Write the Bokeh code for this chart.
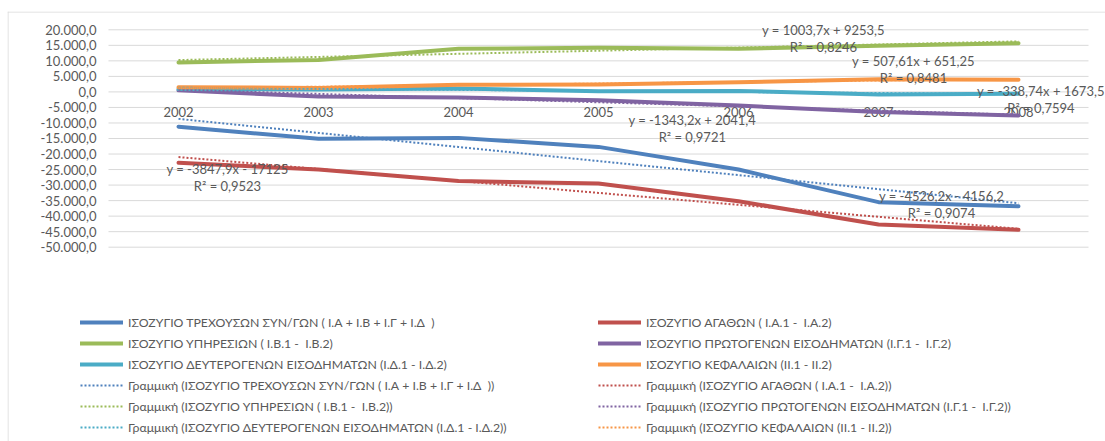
from bokeh.plotting import figure
from bokeh.models import Range1d, FixedTicker, Legend, LegendItem, Label, Span
from bokeh.core.properties import value
from bokeh.embed import file_html
from bokeh.resources import INLINE

# ---------------- data ----------------
years = ["2002", "2003", "2004", "2005", "2006", "2007", "2008"]
x_idx = [1, 2, 3, 4, 5, 6, 7]

current_acc = [-11200, -15100, -14800, -17700, -25000, -35500, -36800]
goods = [-22800, -25000, -28700, -29500, -35200, -42700, -44400]
services = [9500, 10300, 13900, 14200, 13900, 14900, 15700]
primary_inc = [500, -1500, -1800, -2700, -4400, -6500, -7600]
secondary_inc = [900, 750, 1100, 250, 300, -800, -600]
capital = [1500, 1300, 2300, 2400, 3100, 4100, 3900]

series_names = [
    "ΙΣΟΖΥΓΙΟ ΤΡΕΧΟΥΣΩΝ ΣΥΝ/ΓΩΝ ( Ι.Α + Ι.Β + Ι.Γ + Ι.Δ  )",
    "ΙΣΟΖΥΓΙΟ ΑΓΑΘΩΝ ( Ι.Α.1 -  Ι.Α.2)",
    "ΙΣΟΖΥΓΙΟ ΥΠΗΡΕΣΙΩΝ ( Ι.Β.1 -  Ι.Β.2)",
    "ΙΣΟΖΥΓΙΟ ΠΡΩΤΟΓΕΝΩΝ ΕΙΣΟΔΗΜΑΤΩΝ (Ι.Γ.1 -  Ι.Γ.2)",
    "ΙΣΟΖΥΓΙΟ ΔΕΥΤΕΡΟΓΕΝΩΝ ΕΙΣΟΔΗΜΑΤΩΝ (Ι.Δ.1 - Ι.Δ.2)",
    "ΙΣΟΖΥΓΙΟ ΚΕΦΑΛΑΙΩΝ (ΙΙ.1 - ΙΙ.2)",
]
trend_prefix = "Γραμμική"

# linear trend coefficients (as printed on the chart)
trend_slopes = [-4526.2, -3847.9, 1003.7, -1343.2, -338.74, 507.61]
trend_intercepts = [-4156.2, -17125, 9253.5, 2041.4, 1673.5, 651.25]
trend_equations = [
    "y = -4526,2x - 4156,2",
    "y = -3847,9x - 17125",
    "y = 1003,7x + 9253,5",
    "y = -1343,2x + 2041,4",
    "y = -338,74x + 1673,5",
    "y = 507,61x + 651,25",
]
trend_r2 = ["R² = 0,9074", "R² = 0,9523", "R² = 0,8246", "R² = 0,9721", "R² = 0,7594", "R² = 0,8481"]

y_ticks = list(range(-50000, 20001, 5000))

# ---------------- style / layout ----------------
colors = ["#4F81BD", "#C0504D", "#9BBB59", "#8064A2", "#4BACC6", "#F79646"]
FONT = "Lato"
TXT = "#595959"
GRID = "#d9d9d9"
# label block anchors (x index units, value units)
label_pos = [(6.45, -36160), (1.35, -27630), (5.607, 17290), (4.67, -11690), (7.16, -2450), (6.25, 7210)]

all_series = [current_acc, goods, services, primary_inc, secondary_inc, capital]


def fmt(v):
    s = f"{v:,.1f}"
    return s.replace(",", "X").replace(".", ",").replace("X", ".")


# the frame is the whole chart area; the plot area (gridlines, categories) sits inside it,
# and the legend is drawn inside it too
FRAME_LEFT = 7
X_START, X_END = -0.2214, 7.6214
Y_TOP, Y_BOT = 25893, -112565
PX_X = 140.0   # px per category
PX_Y = 322.0   # value units per px

p = figure(width=1105, height=441, output_backend="svg", toolbar_location=None,
           x_axis_location=None,
           x_range=Range1d(X_START, X_END), y_range=Range1d(Y_BOT, Y_TOP),
           min_border_left=FRAME_LEFT, min_border_right=0, min_border_top=11, min_border_bottom=0)
p.outline_line_color = None
p.background_fill_color = "white"
p.border_fill_color = "white"

# chart-area border (left and top edges; right and bottom lie outside the picture)
p.add_layout(Span(location=X_START + 0.5 / PX_X, dimension="height", line_color=GRID, line_width=1))
p.add_layout(Span(location=Y_TOP - 0.5 * PX_Y, dimension="width", line_color=GRID, line_width=1))

# horizontal gridlines spanning only the category area
p.xgrid.grid_line_color = None
p.ygrid.grid_line_color = None
p.segment(x0=[x_idx[0] - 0.5] * len(y_ticks), x1=[x_idx[-1] + 0.5] * len(y_ticks),
          y0=y_ticks, y1=y_ticks, line_color=GRID, line_width=1)

p.yaxis.ticker = FixedTicker(ticks=y_ticks)
p.yaxis.major_label_overrides = {t: fmt(t) for t in y_ticks}
p.yaxis.axis_line_color = None
p.yaxis.major_tick_line_color = None
p.yaxis.minor_tick_line_color = None
p.yaxis.major_label_text_font = FONT
p.yaxis.major_label_text_font_size = "13px"
p.yaxis.major_label_text_color = TXT
p.yaxis.major_label_standoff = -95

# category labels, hanging just under the zero line (axis crosses at 0)
p.text(x=x_idx, y=[0] * len(x_idx), text=years, y_offset=20, text_align="center",
       text_baseline="middle", text_font=value(FONT), text_font_size="13px", text_color=TXT)

main_r = []
for ys, c in zip(all_series, colors):
    r = p.line(x_idx, ys, line_color=c, line_width=4, line_cap="round", line_join="round")
    main_r.append(r)

trend_r = []
for m, b, c in zip(trend_slopes, trend_intercepts, colors):
    ty = [m * x + b for x in x_idx]
    r = p.line(x_idx, ty, line_color=c, line_width=2, line_dash="2 2")
    trend_r.append(r)

for (lx, ly), eq, r2 in zip(label_pos, trend_equations, trend_r2):
    p.add_layout(Label(x=lx, y=ly, y_offset=8.5, text=eq, text_align="center", text_baseline="middle",
                       text_font=FONT, text_font_size="13px", text_color=TXT))
    p.add_layout(Label(x=lx, y=ly, y_offset=-8.5, text=r2, text_align="center", text_baseline="middle",
                       text_font=FONT, text_font_size="13px", text_color=TXT))

# legend: two columns (left: series 1,3,5 ; right: series 2,4,6), solid first then trends
for col, vx in (([0, 2, 4], 80 - FRAME_LEFT), ([1, 3, 5], 598 - FRAME_LEFT)):
    its = [LegendItem(label=series_names[i], renderers=[main_r[i]]) for i in col]
    its += [LegendItem(label=f"{trend_prefix} ({series_names[i]})", renderers=[trend_r[i]]) for i in col]
    lg = Legend(items=its, orientation="vertical", location=(vx, 6),
                glyph_width=43, glyph_height=16, label_height=16,
                label_standoff=5, spacing=5, padding=0, margin=0,
                label_text_font=FONT, label_text_font_size="12.3px", label_text_color=TXT,
                border_line_color=None, background_fill_alpha=0)
    p.add_layout(lg, "center")

open("out.html", "w").write(file_html(p, INLINE))
